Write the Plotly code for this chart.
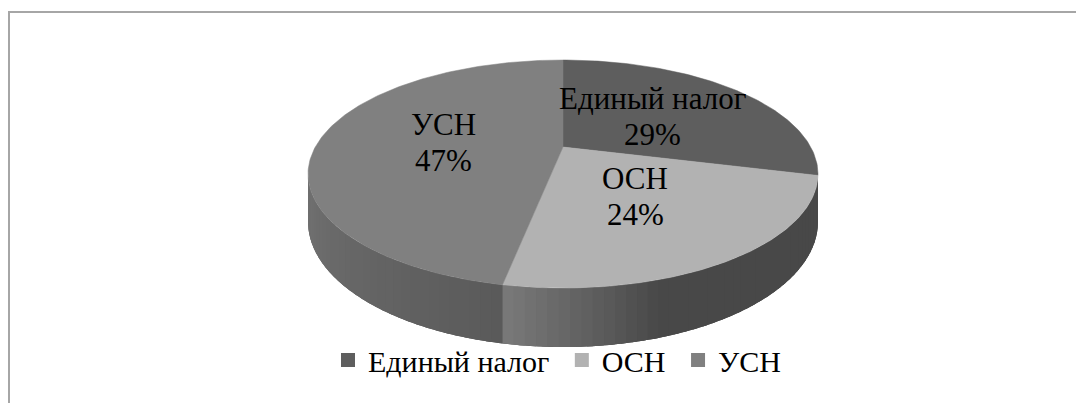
import math
import plotly.graph_objects as go

# ---- data ----
categories = ["Единый налог", "ОСН", "УСН"]
values = [29, 24, 47]

# ---- style ----
top_colors = ["#5e5e5e", "#b2b2b2", "#808080"]
wall_left_gray = [0x4a, 0x7a, 0x72]
wall_right_gray = [0x48, 0x48, 0x5a]
wall_ramp = [1.0, 0.33, 1.0]
FONT = "Liberation Serif"

# geometry (page pixel units; the page body has an 8px margin)
W, H = 1084, 403
OFF = 8
CX, CY = 563, 147       # projected pie centre
A, B = 247.7, 107.6     # radii
K = 0.237               # perspective factor
DEPTH = 45              # wall height
LABEL_R = 0.49
HALF_LINE = 18


def proj(theta_deg, r=1.0, drop=0.0):
    t = math.radians(theta_deg)
    s, c = math.sin(t), math.cos(t)
    w = 1 + K * r * c
    x = CX + A * r * s / w
    y = CY + (-B * r * c + drop) / w
    return x, y


def gray(v):
    v = int(round(v))
    return "#%02x%02x%02x" % (v, v, v)


total = sum(values)
bounds = [0.0]
for v in values:
    bounds.append(bounds[-1] + 360.0 * v / total)

fig = go.Figure()

th_a = math.degrees(math.acos(-K))
th_b = 360 - th_a

# walls
for i in range(len(values)):
    t0, t1 = max(bounds[i], th_a), min(bounds[i + 1], th_b)
    if t1 <= t0:
        continue
    m = max(4, int(t1 - t0))
    top = [proj(t0 + (t1 - t0) * j / m) for j in range(m + 1)]
    bot = [proj(t0 + (t1 - t0) * j / m, drop=DEPTH) for j in range(m + 1)][::-1]
    pts = top + bot + [top[0]]
    fig.add_trace(go.Scatter(
        x=[p[0] for p in pts], y=[p[1] for p in pts],
        fill="toself", fillcolor=gray(wall_right_gray[i]), mode="none",
        hoverinfo="skip", showlegend=False))
    n = max(2, int((t1 - t0) / 2.0))
    step = (t1 - t0) / n
    for j in range(n):
        a0 = t0 + step * j
        a1 = min(t1, a0 + step * 1.5)
        f = 1 - (j + 0.5) / n          # 0 at the left end of the wall, 1 at the right end
        f = min(1.0, f / wall_ramp[i])
        g = wall_left_gray[i] + (wall_right_gray[i] - wall_left_gray[i]) * f
        q = [a0 + (a1 - a0) * u / 4 for u in range(5)]
        pts_top = [proj(a) for a in q]
        pts_bot = [proj(a, drop=DEPTH) for a in q[::-1]]
        pts = pts_top + pts_bot + [pts_top[0]]
        fig.add_trace(go.Scatter(
            x=[p[0] for p in pts], y=[p[1] for p in pts],
            fill="toself", fillcolor=gray(g), mode="none",
            hoverinfo="skip", showlegend=False))

# top faces
for i in range(len(values)):
    t0, t1 = bounds[i], bounds[i + 1]
    n = max(8, int((t1 - t0) / 1.0))
    pts = [(CX, CY)] + [proj(t0 + (t1 - t0) * j / n) for j in range(n + 1)] + [(CX, CY)]
    fig.add_trace(go.Scatter(
        x=[p[0] for p in pts], y=[p[1] for p in pts],
        fill="toself", fillcolor=top_colors[i], mode="lines",
        line=dict(width=0.5, color=top_colors[i]),
        hoverinfo="skip", showlegend=False))

# labels
for i in range(len(values)):
    mid = (bounds[i] + bounds[i + 1]) / 2
    x, y = proj(mid, r=LABEL_R)
    pct = round(100 * values[i] / total)
    fig.add_annotation(x=x, y=y - HALF_LINE, text=categories[i], showarrow=False,
                       font=dict(family=FONT, size=31, color="#000000"))
    fig.add_annotation(x=x, y=y + HALF_LINE, text=f"{pct}%", showarrow=False,
                       font=dict(family=FONT, size=31, color="#000000"))

# legend entries (a little trailing space between items)
for i in range(len(values)):
    pad = "&nbsp;" if i < len(values) - 1 else ""
    fig.add_trace(go.Scatter(x=[None], y=[None], mode="markers", name=categories[i] + pad,
                             marker=dict(symbol="square", size=14, color=top_colors[i])))

fig.add_shape(type="rect", x0=9, y0=12, x1=W + 20, y1=H + 20,
              line=dict(color="#a6a6a6", width=2), layer="below")

fig.update_layout(
    width=W, height=H,
    margin=dict(l=0, r=0, t=0, b=0),
    paper_bgcolor="white", plot_bgcolor="white",
    xaxis=dict(range=[OFF, W + OFF], visible=False, fixedrange=True),
    yaxis=dict(range=[H + OFF, OFF], visible=False, fixedrange=True),
    showlegend=True,
    legend=dict(orientation="h", x=(557 - OFF) / W, xanchor="center", y=1 - (360 - OFF) / H,
                yanchor="middle",
                font=dict(family=FONT, size=30, color="#000000"),
                itemwidth=30, tracegroupgap=0, bgcolor="rgba(0,0,0,0)"),
)

fig.write_html("out.html")
